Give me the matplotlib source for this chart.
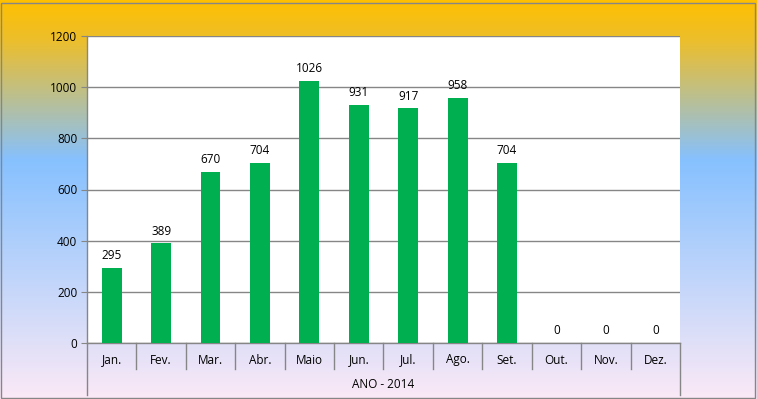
import numpy as np
import matplotlib.pyplot as plt
from matplotlib.colors import LinearSegmentedColormap
from matplotlib.patches import Rectangle

months = ['Jan.', 'Fev.', 'Mar.', 'Abr.', 'Maio', 'Jun.', 'Jul.', 'Ago.', 'Set.', 'Out.', 'Nov.', 'Dez.']
values = [295, 389, 670, 704, 1026, 931, 917, 958, 704, 0, 0, 0]
group_label = 'ANO - 2014'
yticks = [0, 200, 400, 600, 800, 1000, 1200]

W, H = 757, 399
plt.rcParams['font.family'] = ['Open Sans', 'DejaVu Sans']
fig = plt.figure(figsize=(W / 100, H / 100), dpi=100)

# background gradient
bg = fig.add_axes([0, 0, 1, 1], zorder=0)
cmap = LinearSegmentedColormap.from_list('bg', [(0.0, '#FFC000'), (0.10, '#ECBE2C'),
                                                (0.40, '#86C1FF'), (1.0, '#FBE9F6')])
grad = np.linspace(0, 1, 256).reshape(-1, 1)
bg.imshow(grad, aspect='auto', cmap=cmap, extent=[0, 1, 0, 1], origin='upper')
bg.set_axis_off()
fig.patches.append(Rectangle((0.5 / W, 1.5 / H), 754 / W, 395 / H, transform=fig.transFigure,
                             fill=False, edgecolor='#868686', lw=1.0))

x0, x1 = 87, 680
ytop, ybot = 36, 343
ax = fig.add_axes([x0 / W, (H - ybot) / H, (x1 - x0) / W, (ybot - ytop) / H], zorder=1)
ax.set_facecolor('white')

x = np.arange(len(months))
ax.bar(x, values, width=0.4, color='#00B050', zorder=3)
for xi, v in zip(x, values):
    ax.annotate(str(v), (xi, v), xytext=(0, 4), textcoords='offset points',
                ha='center', va='bottom', fontsize=8.5)

ax.set_xlim(-0.5, len(months) - 0.5)
ax.set_ylim(0, 1200)
ax.set_yticks(yticks)
ax.yaxis.grid(True, color='#868686', lw=1)
ax.set_axisbelow(True)
ax.tick_params(axis='y', labelsize=8.5, length=4, color='#868686', pad=3)
ax.set_xticks([])
for s in ['top', 'right']:
    ax.spines[s].set_visible(False)
for s in ['left', 'bottom']:
    ax.spines[s].set_color('#868686')
    ax.spines[s].set_linewidth(1)

# two-level category axis
def fy(py):
    return (ybot - py) / (ybot - ytop)

trans = ax.get_xaxis_transform()
for i in range(1, len(months)):
    ax.plot([i - 0.5, i - 0.5], [0, fy(369)], transform=trans, color='#868686', lw=1, clip_on=False)
for xe in [-0.5, len(months) - 0.5]:
    ax.plot([xe, xe], [0, fy(395)], transform=trans, color='#868686', lw=1, clip_on=False)
for xi, m in zip(x, months):
    ax.text(xi, fy(360), m, transform=trans, ha='center', va='center', fontsize=8.5)
ax.text((len(months) - 1) / 2, fy(385), group_label, transform=trans, ha='center', va='center', fontsize=8.5)

fig.savefig('out.png', dpi=100)
